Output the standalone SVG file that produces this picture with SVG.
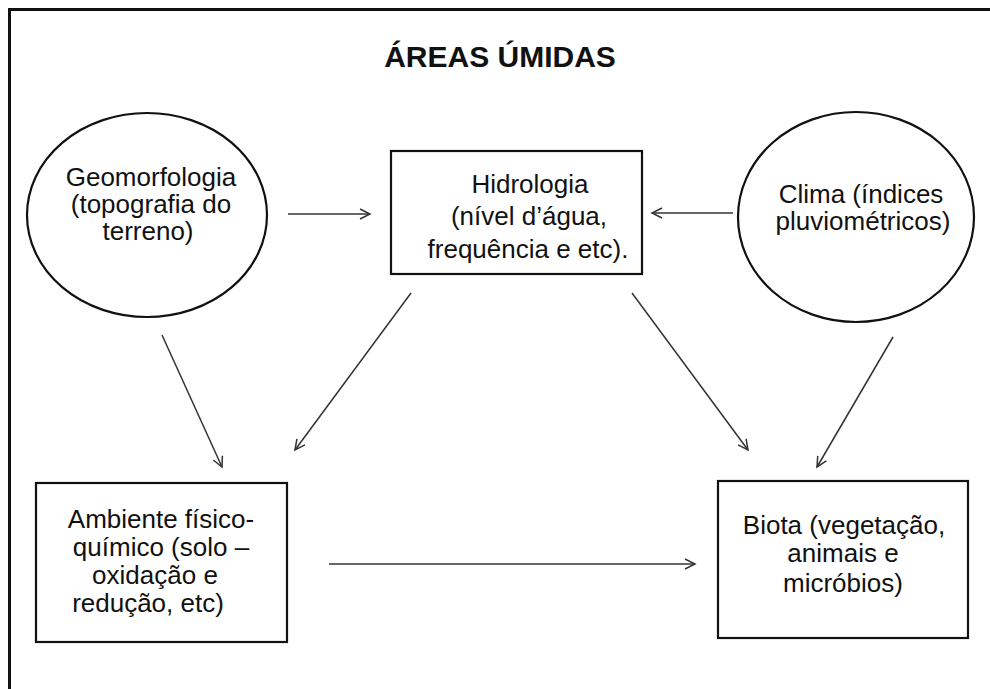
<svg xmlns="http://www.w3.org/2000/svg" width="990" height="689" viewBox="0 0 990 689">
<defs>
<style>
.t{font-family:"Liberation Sans",Arial,sans-serif;font-size:26px;fill:#111;text-anchor:middle}
.title{font-family:"Liberation Sans",Arial,sans-serif;font-size:30px;font-weight:bold;fill:#111;text-anchor:middle}
.shape{fill:#fff;stroke:#111;stroke-width:2.2}
.c{stroke:#333;stroke-width:1.5;fill:none;marker-end:url(#ah)}
</style>
<marker id="ah" markerUnits="userSpaceOnUse" markerWidth="14" markerHeight="14" refX="11" refY="6" orient="auto">
<path d="M1,1 L11,6 L1,11" fill="none" stroke="#333" stroke-width="1.5"/>
</marker>
</defs>
<rect width="990" height="689" fill="#fff"/>
<path d="M990,9.5 H9.5 V689" fill="none" stroke="#111" stroke-width="3"/>
<text class="title" x="500" y="67">ÁREAS ÚMIDAS</text>
<g id="geomorfologia">
<ellipse class="shape" cx="147" cy="215" rx="120" ry="102"/>
<text class="t" x="151" y="186">Geomorfologia</text>
<text class="t" x="151" y="213">(topografia do</text>
<text class="t" x="148" y="240">terreno)</text>
</g>
<g id="hidrologia">
<rect class="shape" x="391" y="151" width="251" height="123"/>
<text class="t" x="530" y="193">Hidrologia</text>
<text class="t" x="529" y="225">(nível d’água,</text>
<text class="t" x="528" y="258">frequência e etc).</text>
</g>
<g id="clima">
<ellipse class="shape" cx="856" cy="217" rx="118" ry="105"/>
<text class="t" x="861" y="203">Clima (índices</text>
<text class="t" x="863" y="230">pluviométricos)</text>
</g>
<g id="ambiente">
<rect class="shape" x="36" y="483" width="251" height="159"/>
<text class="t" x="161" y="528">Ambiente físico-</text>
<text class="t" x="161" y="556">químico (solo –</text>
<text class="t" x="155" y="584">oxidação e</text>
<text class="t" x="148" y="612">redução, etc)</text>
</g>
<g id="biota">
<rect class="shape" x="718" y="481" width="250" height="157"/>
<text class="t" x="844" y="534">Biota (vegetação,</text>
<text class="t" x="843" y="562">animais e</text>
<text class="t" x="843" y="592">micróbios)</text>
</g>
<g id="connectors">
<line class="c" x1="288" y1="214" x2="370" y2="214"/>
<line class="c" x1="733" y1="213" x2="652" y2="213"/>
<line class="c" x1="162" y1="335" x2="222" y2="467"/>
<line class="c" x1="411" y1="293" x2="295" y2="450"/>
<line class="c" x1="632" y1="293" x2="748" y2="450"/>
<line class="c" x1="893" y1="337" x2="817" y2="467"/>
<line class="c" x1="329" y1="564" x2="695" y2="564"/>
</g>
</svg>
